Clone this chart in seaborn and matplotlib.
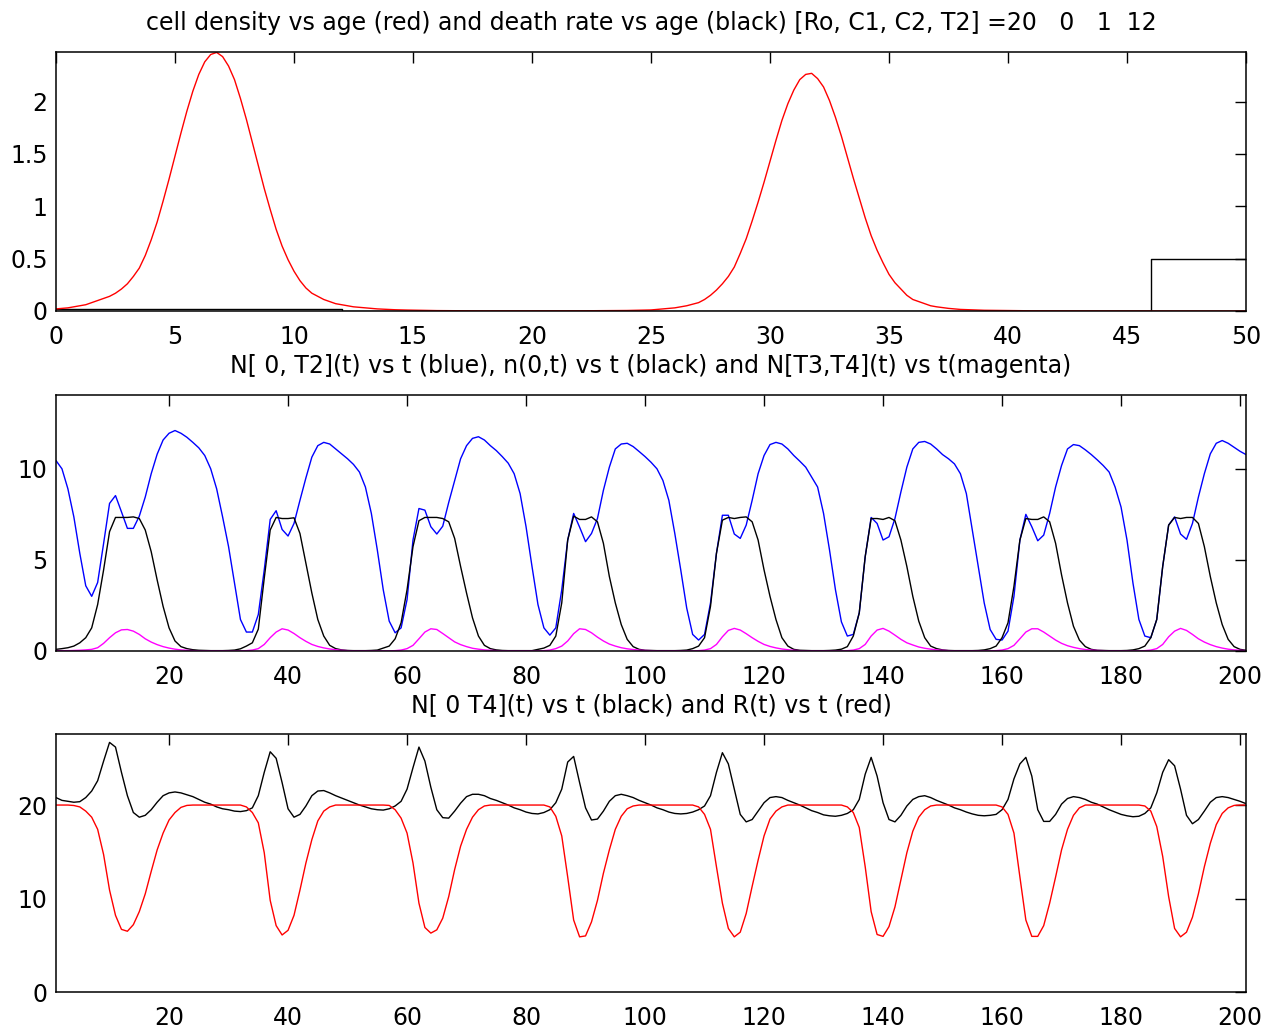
import numpy as np
import pandas as pd
import matplotlib
matplotlib.use("Agg")
import matplotlib.pyplot as plt
import seaborn as sns

# ---- top panel: density and death rate vs age ----
age = np.r_[np.arange(0, 15, 0.25), np.arange(15, 26, 1.0),
            np.arange(26, 38, 0.25), np.arange(38, 51, 1.0)]
density = [0.02, 0.025, 0.03, 0.04, 0.05, 0.06, 0.08, 0.10, 0.12, 0.14,
           0.17, 0.21, 0.26, 0.33, 0.41, 0.53, 0.68, 0.85, 1.05, 1.26,
           1.48, 1.70, 1.91, 2.10, 2.26, 2.38, 2.45, 2.47, 2.43, 2.34,
           2.21, 2.03, 1.83, 1.61, 1.39, 1.17, 0.97, 0.78, 0.62, 0.49,
           0.38, 0.29, 0.22, 0.17, 0.14, 0.11, 0.09, 0.07, 0.06, 0.05,
           0.04, 0.035, 0.03, 0.025, 0.02, 0.017, 0.015, 0.012, 0.01, 0.009,
           # 15 .. 25
           0.008, 0.004, 0.002, 0.001, 0.001, 0.001, 0.001, 0.002, 0.003, 0.005, 0.01,
           # 26 .. 37.75
           0.03, 0.04, 0.05, 0.065, 0.08, 0.11, 0.15, 0.20, 0.26, 0.33,
           0.42, 0.55, 0.69, 0.86, 1.04, 1.23, 1.43, 1.63, 1.82, 1.98,
           2.11, 2.21, 2.26, 2.27, 2.22, 2.14, 2.01, 1.85, 1.67, 1.47,
           1.27, 1.08, 0.89, 0.72, 0.58, 0.46, 0.35, 0.27, 0.21, 0.15,
           0.11, 0.09, 0.07, 0.05, 0.04, 0.032, 0.025, 0.02,
           # 38 .. 50
           0.015, 0.007, 0.004, 0.002, 0.001, 0.001, 0.001, 0.001, 0.0, 0.0, 0.0, 0.0, 0.0]
rate_age = [0, 12, 12, 46, 46, 50]
death_rate = [0.02, 0.02, 0.0, 0.0, 0.5, 0.5]

# ---- middle / bottom panels: time series ----
t = np.arange(1, 202)
n_0_T2 = [10.45, 10.0, 8.9, 7.36, 5.36, 3.58, 3.0, 3.76, 5.9, 8.1,
          8.53, 7.64, 6.73, 6.73, 7.4, 8.45, 9.73, 10.8, 11.58, 11.95,
          12.1, 11.95, 11.73, 11.45, 11.15, 10.73, 10.0, 8.9, 7.36, 5.73,
          3.73, 1.73, 1.04, 1.04, 2.0, 4.45, 7.22, 7.7, 6.67, 6.31,
          7.0, 8.27, 9.5, 10.64, 11.27, 11.45, 11.36, 11.09, 10.82, 10.55,
          10.24, 9.82, 9.0, 7.55, 5.55, 3.36, 1.64, 1.0, 1.27, 2.82,
          6.09, 7.82, 7.73, 6.82, 6.42, 6.85, 8.15, 9.36, 10.55, 11.27,
          11.67, 11.76, 11.58, 11.27, 11.0, 10.67, 10.31, 9.73, 8.64, 6.82,
          4.64, 2.55, 1.27, 0.87, 1.27, 3.36, 6.09, 7.55, 6.8, 6.0,
          6.45, 7.27, 8.82, 10.09, 11.09, 11.36, 11.4, 11.22, 10.95, 10.67,
          10.36, 10.0, 9.36, 8.27, 6.45, 4.45, 2.36, 0.91, 0.6, 0.91,
          2.64, 5.36, 7.45, 7.45, 6.42, 6.18, 6.91, 8.27, 9.73, 10.73,
          11.33, 11.45, 11.36, 11.09, 10.73, 10.42, 10.09, 9.55, 9.0, 7.55,
          5.55, 3.36, 1.6, 0.82, 0.91, 2.09, 5.18, 7.33, 7.0, 6.09,
          6.27, 7.27, 8.73, 10.09, 11.09, 11.45, 11.5, 11.36, 11.09, 10.78,
          10.55, 10.27, 9.73, 8.64, 6.64, 4.64, 2.64, 1.18, 0.64, 0.6,
          1.09, 3.0, 6.09, 7.5, 6.82, 6.05, 6.36, 7.55, 9.0, 10.18,
          11.09, 11.33, 11.27, 11.04, 10.78, 10.49, 10.18, 9.82, 9.0, 7.9,
          6.09, 3.73, 1.73, 0.82, 0.73, 1.73, 4.64, 6.91, 7.36, 6.42,
          6.13, 7.0, 8.45, 9.73, 10.82, 11.4, 11.55, 11.4, 11.18, 10.96,
          10.78]
n_zero = [0.09, 0.13, 0.18, 0.27, 0.45, 0.73, 1.27, 2.55, 4.45, 6.55,
          7.33, 7.33, 7.33, 7.36, 7.27, 6.64, 5.45, 3.9, 2.45, 1.27,
          0.55, 0.24, 0.13, 0.07, 0.04, 0.03, 0.02, 0.02, 0.02, 0.03,
          0.05, 0.12, 0.27, 0.45, 1.2, 4.0, 6.64, 7.33, 7.27, 7.27,
          7.31, 6.45, 4.8, 3.18, 1.73, 0.82, 0.31, 0.13, 0.06, 0.03,
          0.02, 0.02, 0.02, 0.03, 0.05, 0.16, 0.27, 0.67, 1.55, 3.36,
          5.73, 7.15, 7.33, 7.33, 7.33, 7.27, 7.09, 6.18, 4.64, 3.18,
          1.82, 0.82, 0.31, 0.13, 0.06, 0.03, 0.02, 0.02, 0.02, 0.02,
          0.02, 0.09, 0.16, 0.31, 0.82, 2.64, 6.09, 7.4, 7.22, 7.22,
          7.36, 7.09, 5.91, 4.09, 2.64, 1.45, 0.64, 0.24, 0.09, 0.04,
          0.03, 0.02, 0.02, 0.02, 0.02, 0.03, 0.05, 0.13, 0.27, 0.73,
          2.45, 5.36, 7.18, 7.33, 7.27, 7.33, 7.36, 7.09, 6.09, 4.45,
          3.0, 1.73, 0.73, 0.27, 0.09, 0.04, 0.03, 0.02, 0.02, 0.02,
          0.03, 0.05, 0.1, 0.24, 0.82, 2.09, 5.18, 7.27, 7.27, 7.22,
          7.33, 7.15, 6.09, 4.64, 3.0, 1.64, 0.73, 0.27, 0.13, 0.06,
          0.03, 0.02, 0.02, 0.02, 0.02, 0.03, 0.06, 0.13, 0.27, 0.73,
          1.55, 3.55, 6.09, 7.27, 7.22, 7.22, 7.36, 7.09, 5.91, 4.18,
          2.64, 1.36, 0.6, 0.24, 0.09, 0.04, 0.03, 0.02, 0.02, 0.02,
          0.03, 0.06, 0.13, 0.27, 0.73, 1.73, 4.64, 6.91, 7.33, 7.27,
          7.33, 7.33, 7.0, 5.73, 4.09, 2.64, 1.45, 0.64, 0.24, 0.09,
          0.04]
n_T3_T4 = [0.02, 0.02, 0.02, 0.03, 0.04, 0.06, 0.09, 0.18, 0.42, 0.73,
           1.0, 1.16, 1.18, 1.09, 0.91, 0.67, 0.49, 0.35, 0.24, 0.16,
           0.1, 0.06, 0.04, 0.02, 0.01, 0.01, 0.01, 0.01, 0.01, 0.01,
           0.01, 0.01, 0.02, 0.05, 0.13, 0.36, 0.73, 1.04, 1.22, 1.15,
           0.96, 0.73, 0.53, 0.36, 0.25, 0.17, 0.11, 0.07, 0.04, 0.02,
           0.01, 0.01, 0.01, 0.01, 0.01, 0.01, 0.01, 0.02, 0.05, 0.13,
           0.31, 0.67, 1.04, 1.22, 1.18, 0.96, 0.73, 0.5, 0.35, 0.24,
           0.15, 0.1, 0.06, 0.04, 0.02, 0.01, 0.01, 0.01, 0.01, 0.01,
           0.01, 0.01, 0.02, 0.05, 0.13, 0.27, 0.55, 0.95, 1.22, 1.18,
           1.0, 0.76, 0.55, 0.38, 0.27, 0.18, 0.12, 0.08, 0.05, 0.03,
           0.02, 0.01, 0.01, 0.01, 0.01, 0.01, 0.01, 0.01, 0.02, 0.05,
           0.13, 0.36, 0.78, 1.13, 1.24, 1.15, 0.95, 0.73, 0.53, 0.36,
           0.25, 0.17, 0.11, 0.07, 0.04, 0.02, 0.01, 0.01, 0.01, 0.01,
           0.01, 0.01, 0.01, 0.02, 0.05, 0.13, 0.36, 0.82, 1.15, 1.24,
           1.09, 0.87, 0.64, 0.45, 0.33, 0.22, 0.15, 0.1, 0.06, 0.04,
           0.02, 0.01, 0.01, 0.01, 0.01, 0.01, 0.01, 0.01, 0.02, 0.05,
           0.13, 0.31, 0.67, 1.04, 1.22, 1.22, 1.04, 0.82, 0.6, 0.42,
           0.29, 0.2, 0.13, 0.08, 0.05, 0.03, 0.02, 0.01, 0.01, 0.01,
           0.01, 0.01, 0.01, 0.02, 0.05, 0.13, 0.36, 0.78, 1.09, 1.24,
           1.13, 0.91, 0.67, 0.49, 0.35, 0.24, 0.16, 0.1, 0.06, 0.04,
           0.02]
R_t = [20.0, 20.0, 20.0, 19.95, 19.8, 19.35, 18.7, 17.4, 14.7, 10.9,
       8.2, 6.7, 6.5, 7.2, 8.6, 10.5, 12.9, 15.2, 17.0, 18.4,
       19.2, 19.75, 19.96, 20.0, 20.0, 20.0, 20.0, 20.0, 20.0, 20.0,
       20.0, 20.0, 19.8, 19.2, 18.1, 14.9, 9.8, 7.1, 6.1, 6.6,
       8.2, 10.9, 13.8, 16.3, 18.3, 19.35, 19.8, 20.0, 20.0, 20.0,
       20.0, 20.0, 20.0, 20.0, 20.0, 20.0, 19.96, 19.5, 18.6, 17.0,
       13.8, 9.5, 6.9, 6.3, 6.65, 7.9, 10.2, 13.1, 15.6, 17.4,
       18.7, 19.5, 19.9, 20.0, 20.0, 20.0, 20.0, 20.0, 20.0, 20.0,
       20.0, 20.0, 20.0, 19.8, 18.8, 16.7, 12.3, 7.7, 5.9, 6.0,
       7.5, 9.8, 12.7, 15.2, 17.4, 18.8, 19.6, 19.9, 20.0, 20.0,
       20.0, 20.0, 20.0, 20.0, 20.0, 20.0, 20.0, 20.0, 19.8, 19.0,
       17.4, 13.4, 9.5, 6.8, 5.9, 6.4, 8.4, 11.3, 14.1, 16.7,
       18.5, 19.35, 19.8, 20.0, 20.0, 20.0, 20.0, 20.0, 20.0, 20.0,
       20.0, 20.0, 20.0, 19.8, 19.2, 17.6, 13.4, 8.6, 6.15, 5.95,
       7.0, 9.1, 12.0, 14.9, 17.2, 18.7, 19.5, 19.9, 20.0, 20.0,
       20.0, 20.0, 20.0, 20.0, 20.0, 20.0, 20.0, 20.0, 20.0, 19.8,
       19.0, 17.0, 12.3, 7.7, 5.95, 5.95, 7.1, 9.5, 12.3, 15.2,
       17.4, 18.9, 19.7, 20.0, 20.0, 20.0, 20.0, 20.0, 20.0, 20.0,
       20.0, 20.0, 20.0, 19.9, 19.35, 17.7, 14.5, 10.2, 6.8, 5.9,
       6.4, 8.0, 10.5, 13.4, 15.9, 17.9, 19.1, 19.7, 19.96, 20.0,
       20.0]
n_0_T4 = [20.8, 20.5, 20.4, 20.3, 20.36, 20.8, 21.5, 22.6, 24.7, 26.7,
          26.2, 23.5, 21.0, 19.2, 18.7, 18.9, 19.5, 20.3, 21.0, 21.3,
          21.4, 21.3, 21.1, 20.9, 20.6, 20.3, 20.1, 19.8, 19.6, 19.5,
          19.35, 19.3, 19.4, 19.7, 21.0, 23.5, 25.7, 25.0, 22.4, 19.6,
          18.7, 19.0, 19.9, 21.0, 21.5, 21.55, 21.3, 21.0, 20.75, 20.5,
          20.25, 20.0, 19.8, 19.6, 19.5, 19.46, 19.6, 19.9, 20.4, 21.7,
          24.0, 26.2, 24.7, 21.9, 19.5, 18.65, 18.6, 19.35, 20.2, 20.9,
          21.15, 21.15, 21.0, 20.7, 20.5, 20.25, 20.0, 19.7, 19.5, 19.25,
          19.1, 19.05, 19.2, 19.5, 20.25, 21.7, 24.6, 25.2, 22.4, 19.7,
          18.4, 18.5, 19.35, 20.4, 21.0, 21.15, 21.0, 20.8, 20.5, 20.25,
          20.0, 19.7, 19.5, 19.25, 19.1, 19.05, 19.1, 19.25, 19.5, 19.9,
          21.0, 23.5, 25.6, 24.4, 21.7, 19.0, 18.2, 18.45, 19.35, 20.25,
          20.8, 20.9, 20.8, 20.5, 20.25, 20.0, 19.7, 19.4, 19.2, 18.95,
          18.85, 18.8, 18.9, 19.1, 19.5, 20.6, 23.3, 25.1, 23.1, 20.25,
          18.45, 18.2, 18.9, 19.9, 20.6, 20.9, 21.0, 20.8, 20.5, 20.25,
          20.0, 19.7, 19.5, 19.25, 19.05, 18.9, 18.85, 18.9, 19.0, 19.5,
          20.6, 22.8, 24.4, 25.1, 23.1, 19.5, 18.25, 18.25, 19.0, 20.1,
          20.7, 20.9, 20.8, 20.6, 20.3, 20.1, 19.8, 19.5, 19.25, 19.0,
          18.85, 18.75, 18.8, 19.1, 19.7, 21.3, 23.5, 24.85, 24.2, 21.7,
          18.9, 18.0, 18.45, 19.35, 20.3, 20.8, 20.9, 20.8, 20.6, 20.4,
          20.15]

title_top = "cell density vs age (red) and death rate vs age (black) [Ro, C1, C2, T2] =20   0   1  12"
title_mid = "N[ 0, T2](t) vs t (blue), n(0,t) vs t (black) and N[T3,T4](t) vs t(magenta)"
title_bot = "N[ 0 T4](t) vs t (black) and R(t) vs t (red)"

sns.set_style("white")
plt.rcParams['font.family'] = ['DejaVu Sans']
plt.rcParams['text.color'] = 'black'
fs = 17

fig = plt.figure(figsize=(12.82, 10.30), dpi=100)
W, H = 1282, 1030
def box(l, top, r, bot):
    return [l / W, 1 - bot / H, (r - l) / W, (bot - top) / H]

ax1 = fig.add_axes(box(56, 52, 1246, 311))
ax2 = fig.add_axes(box(56, 395, 1246, 651))
ax3 = fig.add_axes(box(56, 734, 1246, 992))

lw = 1.0
sns.lineplot(x=rate_age, y=death_rate, ax=ax1, color='black', lw=lw, estimator=None, sort=False)
sns.lineplot(x=age, y=density, ax=ax1, color='red', lw=lw, estimator=None)

sns.lineplot(x=t, y=n_0_T2, ax=ax2, color='blue', lw=lw, estimator=None)
sns.lineplot(x=t, y=n_zero, ax=ax2, color='black', lw=lw, estimator=None)
sns.lineplot(x=t, y=n_T3_T4, ax=ax2, color='magenta', lw=lw, estimator=None)

sns.lineplot(x=t, y=n_0_T4, ax=ax3, color='black', lw=lw, estimator=None)
sns.lineplot(x=t, y=R_t, ax=ax3, color='red', lw=lw, estimator=None)

ax1.set_xlim(0, 50)
ax1.set_ylim(0, 2.474)
ax1.set_xticks(range(0, 51, 5))
ax1.set_yticks([0, 0.5, 1, 1.5, 2])
ax1.set_yticklabels(['0', '0.5', '1', '1.5', '2'])

ax2.set_xlim(1, 201)
ax2.set_ylim(0, 14.05)
ax2.set_xticks(range(20, 201, 20))
ax2.set_yticks([0, 5, 10])

ax3.set_xlim(1, 201)
ax3.set_ylim(0, 27.6)
ax3.set_xticks(range(20, 201, 20))
ax3.set_yticks([0, 10, 20])

for ax, ttl in [(ax1, title_top), (ax2, title_mid), (ax3, title_bot)]:
    ax.set_title(ttl, fontsize=fs, pad=15.5, color='black')
    ax.set_xlabel('')
    ax.set_ylabel('')
    ax.tick_params(direction='in', length=7.7, width=1.0, top=True, right=True,
                   labelsize=fs, colors='black')
    ax.tick_params(axis='x', pad=10)
    ax.tick_params(axis='y', pad=6)
    for s in ax.spines.values():
        s.set_visible(True)
        s.set_color('black')
        s.set_linewidth(1.1)

fig.savefig("out.png", dpi=100)
